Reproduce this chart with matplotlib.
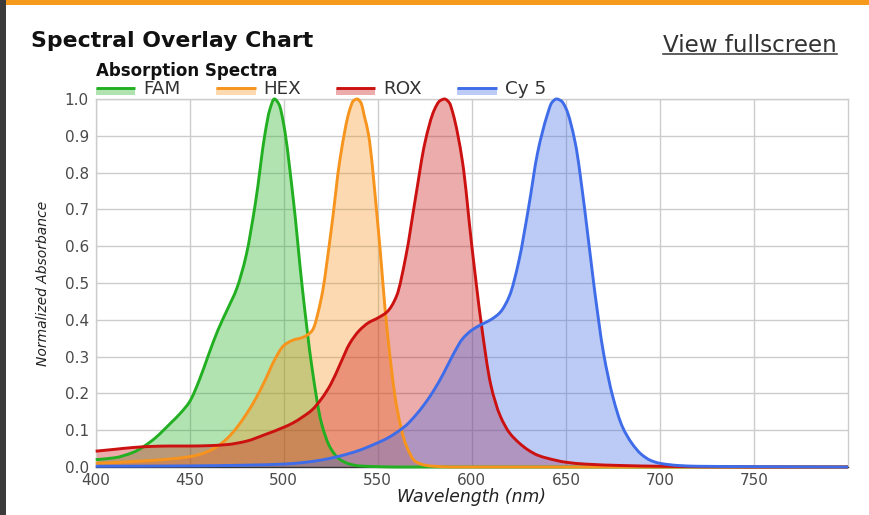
import matplotlib
matplotlib.use("Agg")
import numpy as np
import matplotlib.pyplot as plt
from matplotlib.lines import Line2D
from matplotlib.patches import Rectangle, PathPatch
from matplotlib.path import Path

# ---- data -------------------------------------------------------------
dye_names = ["FAM", "HEX", "ROX", "Cy 5"]
dye_colors = ["#22b022", "#f7941d", "#cc1111", "#3f6ce8"]

fam_nm = [400, 410, 420, 430, 440, 445, 450, 455, 460, 465, 470, 475, 480, 485,
          490, 492.5, 495, 497.5, 500, 505, 510, 515, 520, 525, 530, 535, 540,
          550, 560, 800]
fam_abs = [0.020, 0.025, 0.040, 0.072, 0.120, 0.146, 0.178, 0.235, 0.305, 0.372,
           0.428, 0.485, 0.575, 0.720, 0.905, 0.970, 1.000, 0.985, 0.930, 0.730,
           0.480, 0.270, 0.120, 0.050, 0.020, 0.008, 0.003, 0.001, 0.0, 0.0]

hex_nm = [400, 410, 420, 430, 440, 450, 455, 460, 465, 470, 475, 480, 485, 490,
          495, 500, 505, 510, 515, 520, 525, 530, 535, 537, 539, 541, 543, 545,
          550, 555, 560, 565, 570, 575, 580, 590, 800]
hex_abs = [0.010, 0.012, 0.015, 0.018, 0.022, 0.028, 0.034, 0.043, 0.057, 0.078,
           0.107, 0.143, 0.185, 0.235, 0.290, 0.330, 0.345, 0.352, 0.370, 0.460,
           0.635, 0.840, 0.970, 0.995, 1.000, 0.990, 0.950, 0.905, 0.660, 0.370,
           0.165, 0.060, 0.015, 0.005, 0.002, 0.0, 0.0]

rox_nm = [400, 410, 420, 430, 440, 450, 460, 470, 480, 490, 500, 505, 510, 515,
          520, 525, 530, 535, 540, 545, 550, 555, 560, 565, 570, 575, 580, 583,
          585.5, 588, 590, 595, 600, 605, 610, 615, 620, 625, 630, 635, 640, 650,
          660, 680, 700, 750, 800]
rox_abs = [0.043, 0.048, 0.053, 0.056, 0.057, 0.057, 0.058, 0.061, 0.070, 0.088,
           0.108, 0.120, 0.136, 0.155, 0.185, 0.225, 0.280, 0.335, 0.370, 0.392,
           0.405, 0.422, 0.465, 0.575, 0.730, 0.880, 0.970, 0.995, 1.000, 0.990,
           0.960, 0.830, 0.600, 0.390, 0.225, 0.140, 0.093, 0.066, 0.046, 0.032,
           0.024, 0.013, 0.008, 0.004, 0.002, 0.0, 0.0]

cy5_nm = [400, 450, 480, 500, 510, 520, 530, 540, 545, 550, 555, 560, 565, 570,
          575, 580, 585, 590, 595, 600, 605, 610, 615, 620, 625, 630, 635, 640,
          642.5, 645, 647.5, 650, 655, 660, 665, 670, 675, 680, 685, 690, 695,
          700, 710, 720, 750, 800]
cy5_abs = [0.002, 0.003, 0.005, 0.008, 0.012, 0.019, 0.030, 0.045, 0.055, 0.066,
           0.078, 0.094, 0.113, 0.140, 0.172, 0.210, 0.255, 0.305, 0.348, 0.372,
           0.387, 0.400, 0.420, 0.465, 0.560, 0.700, 0.855, 0.955, 0.990, 1.000,
           0.995, 0.975, 0.880, 0.700, 0.490, 0.310, 0.190, 0.110, 0.065, 0.035,
           0.018, 0.010, 0.004, 0.002, 0.001, 0.0]

spectra = [(fam_nm, fam_abs), (hex_nm, hex_abs), (rox_nm, rox_abs), (cy5_nm, cy5_abs)]

x_ticks = [400, 450, 500, 550, 600, 650, 700, 750]
y_ticks = [0.0, 0.1, 0.2, 0.3, 0.4, 0.5, 0.6, 0.7, 0.8, 0.9, 1.0]


def smooth_segments(nm, ab):
    """Bezier path pieces through the sample points (monotone cubic tangents,
    so the drawn curve never overshoots between samples)."""
    x = np.asarray(nm, float)
    y = np.asarray(ab, float)
    h = np.diff(x)
    d = np.diff(y) / h
    m = np.zeros_like(y)
    m[0], m[-1] = d[0], d[-1]
    for i in range(1, len(y) - 1):
        if d[i - 1] * d[i] > 0:
            w1 = 2 * h[i] + h[i - 1]
            w2 = h[i] + 2 * h[i - 1]
            m[i] = (w1 + w2) / (w1 / d[i - 1] + w2 / d[i])
    verts, codes = [], []
    for i in range(len(x) - 1):
        verts += [(x[i] + h[i] / 3, y[i] + m[i] * h[i] / 3),
                  (x[i + 1] - h[i] / 3, y[i + 1] - m[i + 1] * h[i] / 3),
                  (x[i + 1], y[i + 1])]
        codes += [Path.CURVE4] * 3
    return x, y, verts, codes


# ---- figure -----------------------------------------------------------
W, H = 869, 515
fig = plt.figure(figsize=(W / 100, H / 100), dpi=100)
fig.patch.set_facecolor("white")


def fx(x):
    return x / W


def fy(y):
    return 1 - y / H


# page chrome: dark side strip and orange header bar
fig.add_artist(Rectangle((0, 0), fx(6), 1, transform=fig.transFigure,
                         facecolor="#3b3b3b", edgecolor="none"))
fig.add_artist(Rectangle((fx(6), fy(5)), 1, fy(0) - fy(5), transform=fig.transFigure,
                         facecolor="#f59a1c", edgecolor="none"))

ax_l, ax_r, ax_t, ax_b = 95.7, 848, 99, 467
ax = fig.add_axes([fx(ax_l), fy(ax_b), fx(ax_r) - fx(ax_l), fy(ax_t) - fy(ax_b)])
ax.set_xlim(400, 800)
ax.set_ylim(0, 1)
ax.set_axisbelow(True)
ax.grid(True, color="#cccccc", linewidth=1)

curves = [smooth_segments(nm, ab) for nm, ab in spectra]

# shaded areas first, then the outlines on top
for (x, y, verts, codes), c in zip(curves, dye_colors):
    fill_path = Path([(x[0], 0), (x[0], y[0])] + verts + [(x[-1], 0), (x[0], 0)],
                     [Path.MOVETO, Path.LINETO] + codes + [Path.LINETO, Path.CLOSEPOLY])
    ax.add_patch(PathPatch(fill_path, facecolor=c, alpha=0.35, edgecolor="none",
                           zorder=2))
for (x, y, verts, codes), c in zip(curves, dye_colors):
    line_path = Path([(x[0], y[0])] + verts, [Path.MOVETO] + codes)
    ax.add_patch(PathPatch(line_path, facecolor="none", edgecolor=c,
                           linewidth=2.1, zorder=3, clip_on=False))

ax.set_xticks(x_ticks)
ax.set_yticks(y_ticks)
ax.set_yticklabels([f"{v:.1f}" for v in y_ticks])
ax.tick_params(length=0, labelsize=11, labelcolor="#4a4a4a")
ax.tick_params(axis="y", pad=5)
ax.tick_params(axis="x", pad=4)

for side in ("left", "right", "top"):
    ax.spines[side].set_color("#cccccc")
    ax.spines[side].set_linewidth(1)
ax.spines["bottom"].set_color("#333333")
ax.spines["bottom"].set_linewidth(1)

ax.set_xlabel("Wavelength (nm)", fontsize=12.4, style="italic", color="#222222")
ax.xaxis.label.set_va("baseline")
ax.xaxis.set_label_coords(0.5, (ax_b - 501.5) / (ax_b - ax_t))
ax.set_ylabel("Normalized Absorbance", fontsize=10, style="italic", color="#222222")
ax.yaxis.label.set_va("center")
ax.yaxis.set_label_coords((43.5 - ax_l) / (ax_r - ax_l), 0.5)

# titles
fig.text(fx(31), fy(47), "Spectral Overlay Chart", fontsize=15.8,
         fontweight="bold", color="#111111", va="baseline", ha="left")
link = fig.text(fx(837), fy(51.5), "View fullscreen", fontsize=16.6,
                color="#333333", va="baseline", ha="right")
fig.text(fx(96), fy(76), "Absorption Spectra", fontsize=12,
         fontweight="bold", color="#111111", va="baseline", ha="left")

# underline for the link
renderer = fig.canvas.get_renderer()
bb = link.get_window_extent(renderer=renderer)
uy = fy(53.8)
fig.add_artist(Line2D([bb.x0 / W, bb.x1 / W], [uy, uy], transform=fig.transFigure,
                      color="#333333", linewidth=1.1))

# legend row
swatch_x = [95.7, 216, 335.5, 457.3]
for name, c, sx in zip(dye_names, dye_colors, swatch_x):
    fig.add_artist(Rectangle((fx(sx), fy(95)), fx(39.5), fy(88.5) - fy(95),
                             transform=fig.transFigure, facecolor=c, alpha=0.35,
                             edgecolor="none"))
    fig.add_artist(Line2D([fx(sx), fx(sx + 39.5)], [fy(87.5), fy(87.5)],
                          transform=fig.transFigure, color=c, linewidth=2.1,
                          solid_capstyle="butt"))
    fig.text(fx(sx + 47.5), fy(94), name, fontsize=13.2, color="#333333",
             va="baseline", ha="left")

fig.savefig("out.png", dpi=100, facecolor=fig.get_facecolor())
